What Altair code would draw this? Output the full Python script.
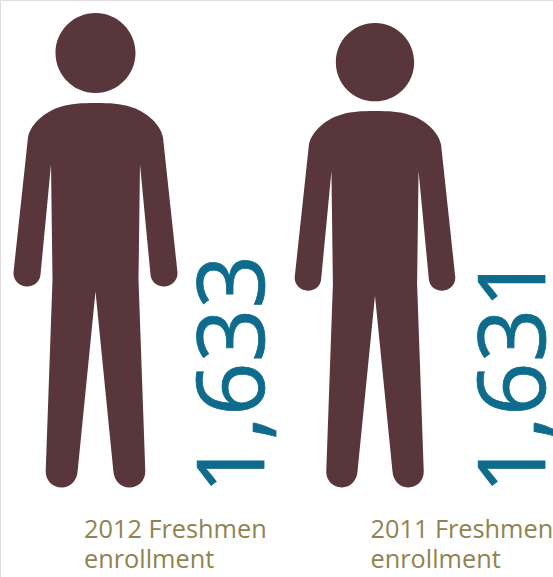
import altair as alt
import pandas as pd

years = ["2012", "2011"]
enrollment = [1633, 1631]
captions = ["2012 Freshmen\nenrollment", "2011 Freshmen\nenrollment"]

table = pd.DataFrame({"year": years, "enrollment": enrollment, "caption": captions})

BODY_COLOR = "#59353c"
NUMBER_COLOR = "#0f6b8c"
CAPTION_COLOR = "#8f8350"

# Pictogram outline, drawn with the feet on the origin and the figure 475 units tall.
UNIT = 475 / 2
KAPPA = 0.5523


def fmt(x, y):
    return f"{x / UNIT:.5f} {y / UNIT:.5f}"


def curve(c1, c2, end):
    return f"C{fmt(*c1)} {fmt(*c2)} {fmt(*end)}"


def circle(cy, r):
    k = KAPPA * r
    return (
        f"M{fmt(-r, cy)}"
        + curve((-r, cy - k), (-k, cy - r), (0, cy - r))
        + curve((k, cy - r), (r, cy - k), (r, cy))
        + curve((r, cy + k), (k, cy + r), (0, cy + r))
        + curve((-k, cy + r), (-r, cy + k), (-r, cy))
        + "Z"
    )


def body():
    # Left half: shoulder, arm, hand, armpit, torso, leg, foot, crotch.
    parts = [f"M{fmt(0, -384.5)}"]
    parts.append(curve((-14, -384.5), (-25, -384), (-35.5, -380.5)))
    parts.append(curve((-47, -377.5), (-65, -365), (-67.5, -350)))
    parts.append(f"L{fmt(-82, -215)}")
    parts.append(curve((-82.5, -207), (-76, -201), (-68.5, -201)))
    parts.append(curve((-61, -201), (-55.5, -206), (-55, -213)))
    parts.append(f"L{fmt(-44.5, -323)}")
    parts.append(f"L{fmt(-43, -208)}")
    parts.append(f"L{fmt(-49.8, -16)}")
    parts.append(curve((-49.8, -7), (-43, 0), (-33.8, 0)))
    parts.append(curve((-25, 0), (-18.3, -7), (-17.8, -17)))
    parts.append(f"L{fmt(0, -196)}")
    # Right half mirrors the left, walked back up to the shoulder.
    parts.append(f"L{fmt(17.8, -17)}")
    parts.append(curve((18.3, -7), (25, 0), (33.8, 0)))
    parts.append(curve((43, 0), (49.8, -7), (49.8, -16)))
    parts.append(f"L{fmt(43, -208)}")
    parts.append(f"L{fmt(44.5, -323)}")
    parts.append(f"L{fmt(55, -213)}")
    parts.append(curve((55.5, -206), (61, -201), (68.5, -201)))
    parts.append(curve((76, -201), (82.5, -207), (82, -215)))
    parts.append(f"L{fmt(67.5, -350)}")
    parts.append(curve((65, -365), (47, -377.5), (35.5, -380.5)))
    parts.append(curve((25, -384), (14, -384.5), (0, -384.5)))
    parts.append("Z")
    return "".join(parts)


PERSON = circle(-434.5, 40) + body()

figures = (
    alt.Chart(table)
    .mark_point(shape=PERSON, filled=True, fill=BODY_COLOR, opacity=1)
    .encode(
        x=alt.X("year:N", axis=None, scale=alt.Scale(domain=years, range=[95.5, 375], padding=0)),
        y=alt.value(487.5),
        size=alt.Size(
            "enrollment:Q",
            legend=None,
            scale=alt.Scale(domain=[1631, 1633], range=[465**2, 475**2]),
        ),
    )
)

numbers = (
    alt.Chart(table)
    .mark_text(
        angle=270,
        align="left",
        baseline="alphabetic",
        font="Open Sans",
        fontSize=94,
        color=NUMBER_COLOR,
        stroke=NUMBER_COLOR,
        strokeWidth=0.8,
    )
    .encode(
        x=alt.X("year:N", axis=None, scale=alt.Scale(domain=years, range=[264, 544.5], padding=0)),
        y=alt.value(494),
        text=alt.Text("enrollment:Q", format=","),
    )
)

labels = (
    alt.Chart(table)
    .mark_text(
        align="left",
        baseline="alphabetic",
        font="Open Sans",
        fontSize=25.3,
        lineBreak="\n",
        lineHeight=29.5,
        color=CAPTION_COLOR,
    )
    .encode(
        x=alt.X("year:N", axis=None, scale=alt.Scale(domain=years, range=[84, 370.5], padding=0)),
        y=alt.value(538),
        text="caption:N",
    )
)

chart = (
    alt.layer(figures, numbers, labels)
    .resolve_scale(x="independent")
    .properties(width=553, height=577, padding=0, autosize=alt.AutoSizeParams(type="none"))
    .configure_view(stroke=None, strokeWidth=0)
    .configure(background="white")
)

chart.save("out.html", embed_options={"renderer": "svg", "actions": False})
